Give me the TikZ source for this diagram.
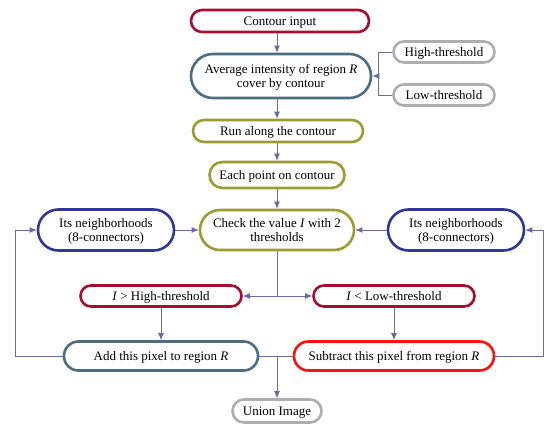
\documentclass[tikz,border=0pt]{standalone}
\usepackage{fontspec}
\setmainfont{Liberation Serif}
\usetikzlibrary{arrows.meta,calc}
\definecolor{crim}{HTML}{A50F2D}
\definecolor{slate}{HTML}{4D6E82}
\definecolor{olive}{HTML}{9C9C35}
\definecolor{navy}{HTML}{30369A}
\definecolor{brightred}{HTML}{FF1010}
\definecolor{lgray}{HTML}{AEAEAE}
\definecolor{conn}{HTML}{6A6AA6}
\tikzset{
  box/.style={draw, line width=2.6pt, fill=white, align=center, inner sep=1pt,
    text depth=0pt, font=\fontsize{13}{14}\selectfont},
  line/.style={draw=conn, line width=0.9pt},
  arr/.style={line, -{Latex[length=7pt,width=6pt]}}
}
\begin{document}
\begin{tikzpicture}[x=1pt,y=-1pt]
\useasboundingbox (0,0) rectangle (547,425);
% nodes
\node[box, draw=crim, minimum width=178pt, minimum height=22pt, rounded corners=10.9pt] (contour) at (280,21) {Contour input};
\node[box, draw=slate, minimum width=180pt, minimum height=44pt, rounded corners=21.9pt] (avg) at (281,76) {Average intensity of region \textit{R}\\cover by contour};
\node[box, draw=lgray, minimum width=101pt, minimum height=21pt, rounded corners=10.4pt] (high) at (444,52) {High-threshold};
\node[box, draw=lgray, minimum width=101pt, minimum height=21pt, rounded corners=10.4pt] (low) at (444,95) {Low-threshold};
\node[box, draw=olive, minimum width=170pt, minimum height=22pt, rounded corners=10.9pt] (run) at (278,131) {Run along the contour};
\node[box, draw=olive, minimum width=135pt, minimum height=26pt, rounded corners=12.9pt] (each) at (277,175) {Each point on contour};
\node[box, draw=olive, minimum width=154pt, minimum height=40pt, rounded corners=19.9pt] (check) at (277,230) {Check the value \textit{I} with 2\\thresholds};
\node[box, draw=navy, minimum width=136pt, minimum height=41pt, rounded corners=20.4pt] (leftn) at (106,230) {Its neighborhoods\\(8-connectors)};
\node[box, draw=navy, minimum width=136pt, minimum height=41pt, rounded corners=20.4pt] (rightn) at (456,230) {Its neighborhoods\\(8-connectors)};
\node[box, draw=crim, minimum width=161pt, minimum height=21pt, rounded corners=10.4pt] (gt) at (161,296) {\textit{I} > High-threshold};
\node[box, draw=crim, minimum width=161pt, minimum height=21pt, rounded corners=10.4pt] (lt) at (394,296) {\textit{I} < Low-threshold};
\node[box, draw=slate, minimum width=194pt, minimum height=29pt, rounded corners=14.4pt] (add) at (161,356) {Add this pixel to region \textit{R}};
\node[box, draw=brightred, minimum width=200pt, minimum height=29pt, rounded corners=14.4pt] (sub) at (394,356) {Subtract this pixel from region \textit{R}};
\node[box, draw=lgray, minimum width=89pt, minimum height=23pt, rounded corners=11.4pt] (union) at (277,411) {Union Image};
% helper coordinates
\coordinate (col) at (277,0);
\coordinate (br) at (378,76);
\coordinate (split) at (277,296);
\coordinate (join) at (277,356);
\coordinate (lc) at (15,356);
\coordinate (rc) at (543,356);
% connectors
\draw[arr] (contour.south -| col) -- (avg.north -| col);
\draw[arr] (avg.south -| col) -- (run.north -| col);
\draw[arr] (run.south -| col) -- (each.north -| col);
\draw[arr] (each.south -| col) -- (check.north -| col);
\draw[line] (high.west) -| (br);
\draw[line] (low.west) -| (br);
\draw[arr] (br) -- (avg.east);
\draw[line] (check.south -| col) -- (split);
\draw[arr] (split) -- (gt.east);
\draw[arr] (split) -- (lt.west);
\draw[arr] (gt.south) -- (add.north);
\draw[arr] (lt.south) -- (sub.north);
\draw[line] (add.east) -- (sub.west);
\draw[arr] (join) -- (union.north);
\draw[arr] (add.west) -- (lc) |- (leftn.west);
\draw[arr] (sub.east) -- (rc) |- (rightn.east);
\draw[arr] (leftn.east) -- (check.west);
\draw[arr] (rightn.west) -- (check.east);
\end{tikzpicture}
\end{document}
